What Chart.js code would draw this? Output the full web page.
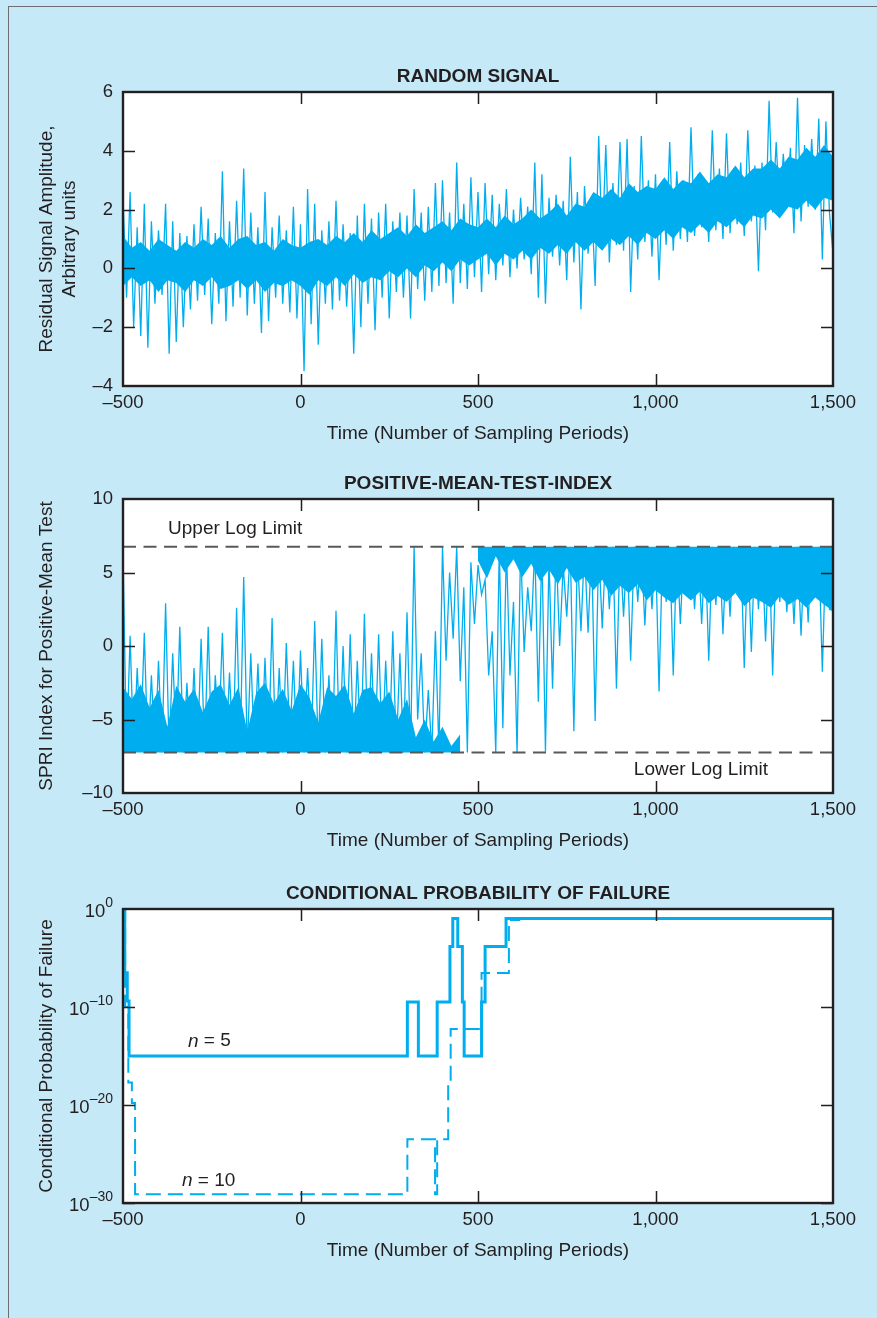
<!DOCTYPE html>
<html>
<head>
<meta charset="utf-8">
<title>Random signal, SPRT index and conditional probability of failure</title>
<script src="https://cdn.jsdelivr.net/npm/chart.js@4.4.1/dist/chart.umd.min.js"></script>
<style>
  html, body { margin: 0; padding: 0; }
  body { width: 877px; height: 1318px; background: #c6e9f8; position: relative; overflow: hidden; }
  .frame { position: absolute; left: 8px; top: 6px; width: 900px; height: 1340px; border: 1px solid #6d6e71; box-sizing: border-box; }
  .panel { position: absolute; left: 0; width: 877px; height: 400px; }
</style>
</head>
<body>
<div class="frame"></div>
<div class="panel" style="top:50px"><canvas id="signal-chart" width="877" height="400"></canvas></div>
<div class="panel" style="top:457px"><canvas id="sprt-chart" width="877" height="400"></canvas></div>
<div class="panel" style="top:867px"><canvas id="prob-chart" width="877" height="400"></canvas></div>
<script>
// Three stacked panels: residual signal, SPRT positive-mean index, conditional failure probability.

const FONT = '"Liberation Sans", Arial, Helvetica, sans-serif';
const INK = "#231f20";
const CYAN = "#00aeef";
const LIMIT_GRAY = "#58595b";

const TIME_TICKS = [-500, 0, 500, 1000, 1500];
const SAMPLE_START = -500;
const SAMPLE_STEP = 10;   // spacing of the peak/trough series
const BAND_STEP = 25;     // spacing of the dense-core envelopes

// residual signal, one value every 10 sampling periods (peaks and troughs)
const signalValues = [
  2.4, -1.0, 2.6, -2.0, 1.4, -2.3, 2.2, -2.7, 1.6, -1.2,
  1.3, -0.9, 2.2, -2.9, 1.6, -2.5, 1.2, -2.0, 1.1, -1.4,
  1.5, -1.1, 2.1, -0.9, 1.7, -1.9, 1.2, -1.2, 3.3, -1.8,
  1.6, -1.3, 2.3, -1.0, 3.4, -1.6, 1.9, -1.2, 1.4, -2.2,
  2.6, -1.8, 1.4, -1.0, 1.8, -1.2, 1.3, -1.5, 2.1, -1.7,
  1.5, -3.5, 2.7, -1.9, 2.2, -2.6, 1.3, -1.2, 1.6, -1.4,
  2.3, -1.1, 1.5, -1.3, 1.2, -2.9, 1.8, -2.0, 2.2, -1.2,
  1.7, -2.1, 1.9, -1.0, 2.2, -1.7, 1.6, -0.8, 1.9, -1.0,
  1.8, -1.7, 2.7, -0.7, 1.9, -1.1, 2.1, -0.8, 2.9, -0.6,
  3.0, -0.5, 1.9, -1.2, 3.6, -0.5, 2.2, -0.7, 3.1, -0.3,
  2.6, -0.8, 2.9, -0.2, 2.5, -0.4, 2.2, 0.1, 2.7, -0.3,
  2.0, 0.0, 2.4, 0.3, 2.1, -0.2, 3.6, -1.0, 3.2, -1.2,
  2.4, 0.4, 2.5, 0.1, 2.3, -0.4, 3.8, 0.2, 2.6, -1.4,
  2.8, 0.5, 2.3, -0.6, 4.5, 0.7, 4.2, 0.2, 2.9, 0.8,
  4.3, 0.6, 4.4, -0.8, 2.8, 0.3, 4.5, 0.9, 3.0, 0.4,
  3.2, -0.4, 2.9, 0.8, 4.3, 0.6, 3.3, 1.0, 3.0, 0.9,
  4.8, 1.1, 3.2, 1.4, 3.0, 0.9, 4.7, 1.3, 3.4, 1.0,
  4.6, 1.2, 3.4, 1.5, 3.6, 1.1, 4.7, 1.6, 3.5, -0.1,
  3.6, 1.3, 5.7, 1.9, 4.3, 1.8, 3.9, 2.2, 4.1, 1.2,
  5.8, 1.6, 4.2, 2.1, 4.4, 2.0, 5.1, 0.3, 5.0, 1.9,
  0.5,
];

// dense core of the signal trace, every 25 periods from -500 to 1500
const signalBandUpper = [
  1.1, 0.7, 0.9, 0.6, 1.0, 0.8, 0.6, 0.9, 0.7, 1.0,
  0.8, 1.1, 0.7, 1.0, 1.1, 0.8, 0.9, 0.6, 1.0, 0.8,
  0.7, 0.9, 1.0, 0.8, 1.1, 0.9, 1.2, 0.9, 1.3, 1.0,
  1.2, 1.4, 1.1, 1.5, 1.2, 1.4, 1.6, 1.3, 1.7, 1.5,
  1.4, 1.7, 1.4, 1.8, 1.5, 1.7, 2.0, 1.7, 1.9, 2.2,
  1.8, 2.2, 2.1, 2.6, 2.4, 2.7, 2.4, 2.9, 2.6, 2.8,
  2.7, 3.1, 2.7, 3.0, 2.9, 3.3, 2.9, 3.2, 3.1, 3.5,
  3.1, 3.4, 3.4, 3.7, 3.4, 3.8, 3.7, 4.1, 3.8, 4.2,
  3.8,
];
const signalBandLower = [
  -0.6, -0.3, -0.6, -0.4, -0.8, -0.4, -0.5, -0.8, -0.4, -0.6,
  -0.3, -0.7, -0.6, -0.4, -0.7, -0.4, -0.8, -0.5, -0.6, -0.4,
  -0.6, -0.9, -0.4, -0.6, -0.3, -0.6, -0.2, -0.5, -0.3, -0.4,
  -0.1, -0.3, 0.0, -0.3, 0.1, -0.1, 0.2, -0.1, 0.3, 0.1,
  0.3, 0.5, 0.1, 0.5, 0.3, 0.6, 0.3, 0.7, 0.5, 0.8,
  0.5, 0.9, 0.6, 0.9, 0.6, 1.0, 0.8, 1.1, 0.8, 1.2,
  1.0, 1.3, 1.0, 1.4, 1.2, 1.5, 1.2, 1.6, 1.4, 1.7,
  1.4, 1.8, 1.7, 2.0, 1.7, 2.1, 2.0, 2.3, 2.0, 2.4,
  2.3,
];

const UPPER_LOG_LIMIT = 6.75;
const LOWER_LOG_LIMIT = -7.25;

// SPRT index, one value every 10 sampling periods
const sprtValues = [
  6.4, -7.25, 0.7, -7.25, -1.5, -6.5, 0.9, -7.25, -2.0, -7.25,
  -1.0, -7.25, 2.9, -7.25, -0.5, -6.8, 1.3, -7.25, -2.5, -7.25,
  -1.5, -7.25, 0.5, -7.25, 1.3, -7.25, -2.0, -6.0, 0.9, -7.25,
  -1.8, -7.25, 2.6, -7.25, 4.7, -7.25, -0.5, -7.25, -1.2, -7.25,
  -0.8, -7.25, 1.9, -7.25, -1.5, -7.25, 0.2, -6.5, -1.0, -7.25,
  -0.3, -7.25, -1.5, -7.25, 1.7, -7.25, 0.5, -7.25, -2.0, -7.25,
  2.4, -7.25, 0.0, -7.25, 0.8, -7.25, -1.0, -7.25, 2.2, -7.25,
  -0.5, -7.25, 0.8, -7.25, -1.0, -7.25, 1.0, -7.25, -0.5, -7.25,
  2.3, -7.25, 6.75, -5.0, -0.5, -7.25, -3.0, -7.25, 1.0, -7.25,
  6.75, -1.0, 5.0, 0.5, 6.75, -2.4, 4.0, -7.25, 5.7, 1.5,
  5.5, 3.5, 4.5, -2.0, 1.0, -7.25, 6.75, -5.6, 6.75, -2.0,
  3.0, -7.25, 6.75, -0.4, 4.0, 1.0, 6.75, -3.8, 6.75, -7.2,
  6.0, -2.9, 6.75, 0.0, 5.5, 2.0, 6.75, -5.8, 6.4, 1.0,
  6.75, 0.9, 6.75, -5.1, 6.75, 1.2, 6.75, 2.5, 6.75, -2.9,
  6.75, 2.0, 6.75, -1.0, 6.75, 3.0, 6.75, 1.4, 6.75, 2.5,
  6.75, -3.1, 6.75, 3.0, 6.75, -2.0, 6.75, 1.5, 6.75, 3.5,
  6.75, 2.5, 6.75, 1.5, 6.75, -1.0, 6.75, 2.8, 6.75, 0.8,
  6.75, 2.0, 6.75, 3.5, 6.75, -1.5, 6.75, -0.4, 6.75, 2.5,
  6.75, 0.3, 6.75, -2.0, 6.75, 3.0, 6.75, 2.3, 6.75, 1.5,
  6.75, 0.7, 6.75, 1.6, 6.75, 3.5, 6.75, -1.75, 6.75, 2.5,
  2.4,
];

// solid mass sitting on the lower limit, every 25 periods from -500 to 450
const sprtFloorTop = [
  -2.8, -3.6, -2.6, -4.2, -3.0, -5.5, -2.7, -3.8, -2.9, -4.5,
  -3.1, -2.6, -4.0, -2.8, -5.8, -3.2, -2.5, -3.9, -2.9, -4.4,
  -2.6, -3.5, -5.2, -2.8, -3.4, -2.6, -4.6, -3.0, -2.8, -3.9,
  -3.1, -5.0, -3.6, -6.2, -5.0, -6.5, -5.5, -6.8, -6.0,
];
// solid mass hanging from the upper limit, every 25 periods from 500 to 1500
const sprtCeilBottom = [
  5.8, 4.6, 6.1, 5.0, 5.9, 4.7, 5.6, 4.4, 5.2, 4.2,
  5.3, 4.3, 4.7, 3.8, 4.5, 3.4, 4.1, 3.6, 4.2, 3.1,
  3.8, 3.3, 2.9, 3.6, 3.1, 3.7, 2.9, 3.4, 3.0, 3.6,
  2.7, 3.3, 3.0, 2.6, 3.4, 2.8, 3.2, 2.6, 3.3, 2.8,
  2.4,
];

// conditional probability of failure, step changes
const probTimesN5 = [-500, -495, -488, -483, 301, 332, 385, 421, 429, 443, 456, 461, 510, 520, 579, 1500];
const probN5 = [1, 3.2e-7, 4e-10, 1e-15, 3.2e-10, 1e-15, 3.2e-10, 1.5e-4, 0.11, 1.5e-4, 3.2e-10, 1e-15, 3.2e-10, 1.5e-4, 0.11, 0.11];
const probTimesN10 = [-500, -494, -485, -475, -466, 301, 379, 385, 416, 423, 510, 587, 616, 1500];
const probN10 = [1, 1e-10, 2e-18, 1.6e-20, 8e-30, 3.2e-24, 8e-30, 3.2e-24, 1.3e-18, 5.8e-13, 2.9e-7, 0.076, 0.11, 0.11];
const PROB_TICKS = [1e-30, 1e-20, 1e-10, 1];

Chart.defaults.font.family = FONT;
Chart.defaults.color = INK;

const xy = (xs, ys) => ys.map((y, i) => ({ x: xs[i], y }));
const sampled = (ys, start = SAMPLE_START, step = SAMPLE_STEP) =>
  ys.map((y, i) => ({ x: start + i * step, y }));

function fmtTick(v) {
  if (v < 0) return "\u2013" + Math.abs(v).toLocaleString("en-US");
  return v.toLocaleString("en-US");
}

// white plot area, inward ticks on all four sides and the black frame
const frameAndTicks = {
  id: "frameAndTicks",
  beforeDraw(chart) {
    const { ctx, chartArea: a } = chart;
    ctx.save();
    ctx.fillStyle = "#ffffff";
    ctx.fillRect(a.left, a.top, a.right - a.left, a.bottom - a.top);
    ctx.restore();
  },
  afterDatasetsDraw(chart) {
    const { ctx, chartArea: a, scales } = chart;
    const len = 12;
    ctx.save();
    ctx.strokeStyle = INK;
    ctx.lineWidth = 1.5;
    ctx.beginPath();
    scales.x.ticks.forEach((t) => {
      if (t.value <= scales.x.min || t.value >= scales.x.max) return;
      const px = Math.round(scales.x.getPixelForValue(t.value)) + 0.5;
      ctx.moveTo(px, a.bottom); ctx.lineTo(px, a.bottom - len);
      ctx.moveTo(px, a.top); ctx.lineTo(px, a.top + len);
    });
    scales.y.ticks.forEach((t) => {
      if (t.value <= scales.y.min || t.value >= scales.y.max) return;
      const py = Math.round(scales.y.getPixelForValue(t.value)) + 0.5;
      ctx.moveTo(a.left, py); ctx.lineTo(a.left + len, py);
      ctx.moveTo(a.right, py); ctx.lineTo(a.right - len, py);
    });
    ctx.stroke();
    ctx.lineWidth = 2.4;
    ctx.strokeRect(a.left, a.top, a.right - a.left, a.bottom - a.top);
    ctx.restore();
  },
};

// text placed in data coordinates; parts let "n" be italic
function notes(items) {
  return {
    id: "notes",
    afterDatasetsDraw(chart) {
      const { ctx, scales } = chart;
      ctx.save();
      ctx.fillStyle = INK;
      ctx.textBaseline = "middle";
      ctx.textAlign = "left";
      items.forEach((it) => {
        let px = scales.x.getPixelForValue(it.x);
        const py = scales.y.getPixelForValue(it.y);
        it.parts.forEach(([text, style]) => {
          ctx.font = `${style || ""} 19px ${FONT}`;
          ctx.fillText(text, px, py);
          px += ctx.measureText(text).width;
        });
      });
      ctx.restore();
    },
  };
}

// 10 with a raised exponent for the log axis
const powerLabels = {
  id: "powerLabels",
  afterDraw(chart) {
    const { ctx } = chart;
    const y = chart.scales.y;
    const right = chart.chartArea.left - 10;
    ctx.save();
    ctx.fillStyle = INK;
    ctx.textBaseline = "middle";
    ctx.textAlign = "left";
    y.ticks.forEach((t) => {
      const py = y.getPixelForValue(t.value);
      const exp = Math.round(Math.log10(t.value));
      const expText = exp < 0 ? "\u2013" + Math.abs(exp) : String(exp);
      ctx.font = `14px ${FONT}`;
      const ew = ctx.measureText(expText).width;
      ctx.font = `18.5px ${FONT}`;
      const bw = ctx.measureText("10").width;
      ctx.fillText("10", right - ew - bw, py + 2.5);
      ctx.font = `14px ${FONT}`;
      ctx.fillText(expText, right - ew, py - 5.5);
    });
    ctx.restore();
  },
};

function xAxis() {
  return {
    type: "linear",
    min: -500,
    max: 1500,
    afterBuildTicks: (s) => { s.ticks = TIME_TICKS.map((v) => ({ value: v })); },
    ticks: { padding: 6, font: { size: 18.5 }, color: INK, maxRotation: 0, autoSkip: false, callback: fmtTick },
    grid: { display: false, drawTicks: false },
    border: { display: false },
    title: { display: true, text: "Time (Number of Sampling Periods)", font: { size: 19 }, color: INK, padding: { top: 0, bottom: 4.6 } },
    afterFit: (s) => { s.height = 64; },
  };
}

function yTitle(text) {
  return { display: true, text, font: { size: 19 }, color: INK, padding: { top: 35.6, bottom: 0 } };
}

function baseOptions(title) {
  return {
    responsive: false,
    animation: false,
    events: [],
    layout: { padding: { left: 0, right: 44, top: 0, bottom: 0 } },
    plugins: {
      legend: { display: false },
      tooltip: { enabled: false },
      title: {
        display: true, text: title, fullSize: false, color: INK,
        font: { size: 19, weight: "bold" }, padding: { top: 15, bottom: 4.2 },
      },
    },
  };
}

const lineStyle = { pointRadius: 0, tension: 0, fill: false };
const bandStyle = { ...lineStyle, borderWidth: 0, borderColor: CYAN, backgroundColor: CYAN };

new Chart(document.getElementById("signal-chart"), {
  type: "line",
  data: {
    datasets: [
      { ...lineStyle, data: sampled(signalValues), borderColor: CYAN, borderWidth: 1.3 },
      { ...bandStyle, data: sampled(signalBandUpper, -500, BAND_STEP), fill: "+1" },
      { ...bandStyle, data: sampled(signalBandLower, -500, BAND_STEP) },
    ],
  },
  options: {
    ...baseOptions("RANDOM SIGNAL"),
    scales: {
      x: xAxis(),
      y: {
        min: -4, max: 6,
        ticks: { stepSize: 2, padding: 10, font: { size: 18.5 }, color: INK, callback: fmtTick },
        grid: { display: false, drawTicks: false },
        border: { display: false },
        title: yTitle(["Residual Signal Amplitude,", "Arbitrary units"]),
        afterFit: (s) => { s.width = 123; },
      },
    },
  },
  plugins: [frameAndTicks],
});

const limitLine = { ...lineStyle, borderColor: LIMIT_GRAY, borderWidth: 2, borderDash: [13, 7.5] };

new Chart(document.getElementById("sprt-chart"), {
  type: "line",
  data: {
    datasets: [
      { ...limitLine, data: xy([-500, 1500], [UPPER_LOG_LIMIT, UPPER_LOG_LIMIT]) },
      { ...limitLine, data: xy([-500, 1500], [LOWER_LOG_LIMIT, LOWER_LOG_LIMIT]) },
      { ...lineStyle, data: sampled(sprtValues), borderColor: CYAN, borderWidth: 1.3 },
      { ...bandStyle, data: sampled(sprtFloorTop, -500, BAND_STEP), fill: { value: LOWER_LOG_LIMIT } },
      { ...bandStyle, data: sampled(sprtCeilBottom, 500, BAND_STEP), fill: { value: UPPER_LOG_LIMIT } },
    ],
  },
  options: {
    ...baseOptions("POSITIVE-MEAN-TEST-INDEX"),
    scales: {
      x: xAxis(),
      y: {
        min: -10, max: 10,
        ticks: { stepSize: 5, padding: 10, font: { size: 18.5 }, color: INK, callback: fmtTick },
        grid: { display: false, drawTicks: false },
        border: { display: false },
        title: yTitle("SPRI Index for Positive-Mean Test"),
        afterFit: (s) => { s.width = 123; },
      },
    },
  },
  plugins: [frameAndTicks, notes([
    { x: -373, y: 8.0, parts: [["Upper Log Limit"]] },
    { x: 939, y: -8.45, parts: [["Lower Log Limit"]] },
  ])],
});

new Chart(document.getElementById("prob-chart"), {
  type: "line",
  data: {
    datasets: [
      { ...lineStyle, data: xy(probTimesN5, probN5), borderColor: CYAN, borderWidth: 3, stepped: "before" },
      { ...lineStyle, data: xy(probTimesN10, probN10), borderColor: CYAN, borderWidth: 2, borderDash: [15, 7], stepped: "before" },
    ],
  },
  options: {
    ...baseOptions("CONDITIONAL PROBABILITY OF FAILURE"),
    scales: {
      x: xAxis(),
      y: {
        type: "logarithmic",
        min: 1e-30, max: 1,
        afterBuildTicks: (s) => { s.ticks = PROB_TICKS.map((v) => ({ value: v })); },
        ticks: { display: false },
        grid: { display: false, drawTicks: false },
        border: { display: false },
        title: yTitle("Conditional Probability of Failure"),
        afterFit: (s) => { s.width = 123; },
      },
    },
  },
  plugins: [frameAndTicks, powerLabels, notes([
    { x: -317, y: 3.2e-14, parts: [["n", "italic"], [" = 5"]] },
    { x: -334, y: 2e-28, parts: [["n", "italic"], [" = 10"]] },
  ])],
});
</script>
</body>
</html>
